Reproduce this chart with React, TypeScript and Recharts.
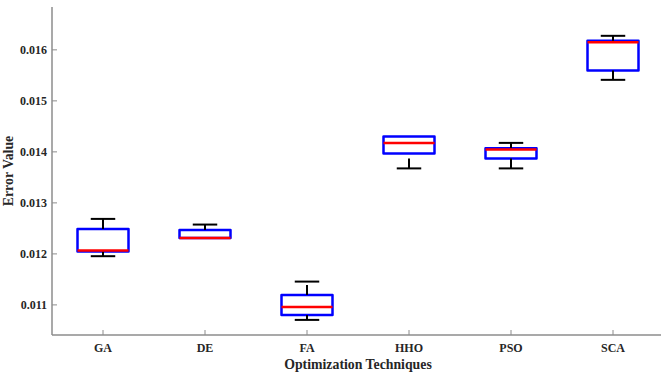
import React from 'react';
import { ComposedChart, XAxis, YAxis, ReferenceArea, ReferenceLine, Scatter } from 'recharts';

const categories = ['GA', 'DE', 'FA', 'HHO', 'PSO', 'SCA'];
const minValues = [0.011955, 0.012312, 0.010706, 0.013676, 0.013676, 0.015412];
const q1Values = [0.012045, 0.012312, 0.010804, 0.013967, 0.013869, 0.015594];
const medianValues = [0.012065, 0.012312, 0.010961, 0.014176, 0.014045, 0.01615];
const q3Values = [0.01249, 0.01247, 0.011196, 0.0143, 0.014072, 0.016176];
const maxValues = [0.012686, 0.012575, 0.011457, 0.0143, 0.014176, 0.016275];
const yTicks = [0.011, 0.012, 0.013, 0.014, 0.015, 0.016];

const xTicks = categories.map((_, i) => i + 1);
const medianPoints = categories.map((c, i) => ({ x: i + 1, y: medianValues[i], name: c }));

const BOX_HALF = 0.25;
const CAP_HALF = 0.12;
const X_DOMAIN: [number, number] = [0.5, 6.5];
const Y_DOMAIN: [number, number] = [0.01041, 0.01684];

const FONT = 'Liberation Serif';
const AXIS_COLOR = '#8c8c8c';
const TEXT_COLOR = '#262626';
const WHISKER_DASH = '10 6';

const tickStyle = { fill: TEXT_COLOR, fontSize: 12, fontWeight: 'bold', fontFamily: FONT };
const labelStyle = { fill: TEXT_COLOR, fontSize: 13.8, fontWeight: 'bold', fontFamily: FONT };

export default function App() {
  const upper = categories.map((c, i) => ({ c, i })).filter(({ i }) => maxValues[i] > q3Values[i]);
  const lower = categories.map((c, i) => ({ c, i })).filter(({ i }) => minValues[i] < q1Values[i]);
  return (
    <div style={{ position: 'absolute', left: 0, top: 0, width: 661, height: 375, overflow: 'hidden', background: '#fff' }}>
      <ComposedChart width={680} height={375} margin={{ top: 7, right: 16, bottom: 0, left: 0 }}>
        <XAxis
          type="number"
          dataKey="x"
          domain={X_DOMAIN}
          ticks={xTicks}
          allowDataOverflow
          tickFormatter={(v: number) => categories[v - 1] ?? ''}
          height={40}
          tickSize={-5}
          tickMargin={13}
          tick={tickStyle}
          axisLine={{ stroke: AXIS_COLOR, strokeWidth: 1.5 }}
          tickLine={{ stroke: AXIS_COLOR, strokeWidth: 1 }}
          label={{ value: 'Optimization Techniques', position: 'insideBottom', offset: 6, style: labelStyle, ...labelStyle }}
        />
        <XAxis
          xAxisId="top"
          orientation="top"
          type="number"
          domain={X_DOMAIN}
          ticks={xTicks}
          allowDataOverflow
          height={0}
          tickSize={-5}
          tick={false}
          axisLine={{ stroke: AXIS_COLOR, strokeWidth: 1.5 }}
          tickLine={{ stroke: AXIS_COLOR, strokeWidth: 1 }}
        />
        <YAxis
          type="number"
          domain={Y_DOMAIN}
          ticks={yTicks}
          allowDataOverflow
          width={52}
          tickSize={-5}
          tickMargin={10}
          tickFormatter={(v: number) => v.toFixed(3)}
          tick={tickStyle}
          axisLine={{ stroke: AXIS_COLOR, strokeWidth: 1.5 }}
          tickLine={{ stroke: AXIS_COLOR, strokeWidth: 1 }}
          label={{ value: 'Error Value', angle: -90, position: 'insideLeft', offset: 8, style: { ...labelStyle, textAnchor: 'middle' }, ...labelStyle }}
        />
        <YAxis
          yAxisId="right"
          orientation="right"
          type="number"
          domain={Y_DOMAIN}
          ticks={yTicks}
          allowDataOverflow
          width={0}
          tickSize={-5}
          tick={false}
          axisLine={{ stroke: AXIS_COLOR, strokeWidth: 1.5 }}
          tickLine={{ stroke: AXIS_COLOR, strokeWidth: 1 }}
        />
        <Scatter data={medianPoints} dataKey="y" isAnimationActive={false} shape={() => <g />} />
        {upper.map(({ c, i }) => (
          <ReferenceLine
            key={`wu-${c}`}
            segment={[{ x: i + 1, y: q3Values[i] }, { x: i + 1, y: maxValues[i] }]}
            stroke="#000"
            strokeWidth={2}
            strokeDasharray={WHISKER_DASH}
          />
        ))}
        {lower.map(({ c, i }) => (
          <ReferenceLine
            key={`wl-${c}`}
            segment={[{ x: i + 1, y: minValues[i] }, { x: i + 1, y: q1Values[i] }]}
            stroke="#000"
            strokeWidth={2}
            strokeDasharray={WHISKER_DASH}
          />
        ))}
        {upper.map(({ c, i }) => (
          <ReferenceLine
            key={`cu-${c}`}
            segment={[{ x: i + 1 - CAP_HALF, y: maxValues[i] }, { x: i + 1 + CAP_HALF, y: maxValues[i] }]}
            stroke="#000"
            strokeWidth={2}
          />
        ))}
        {lower.map(({ c, i }) => (
          <ReferenceLine
            key={`cl-${c}`}
            segment={[{ x: i + 1 - CAP_HALF, y: minValues[i] }, { x: i + 1 + CAP_HALF, y: minValues[i] }]}
            stroke="#000"
            strokeWidth={2}
          />
        ))}
        {categories.map((c, i) => (
          <ReferenceArea
            key={`box-${c}`}
            x1={i + 1 - BOX_HALF}
            x2={i + 1 + BOX_HALF}
            y1={q1Values[i]}
            y2={q3Values[i]}
            fill="none"
            fillOpacity={0}
            stroke="#0000ff"
            strokeWidth={2.5}
            strokeOpacity={1}
            strokeLinejoin="round"
          />
        ))}
        {categories.map((c, i) => (
          <ReferenceLine
            key={`med-${c}`}
            segment={[{ x: i + 1 - BOX_HALF, y: medianValues[i] }, { x: i + 1 + BOX_HALF, y: medianValues[i] }]}
            stroke="#ff0000"
            strokeWidth={2.5}
          />
        ))}
      </ComposedChart>
    </div>
  );
}
